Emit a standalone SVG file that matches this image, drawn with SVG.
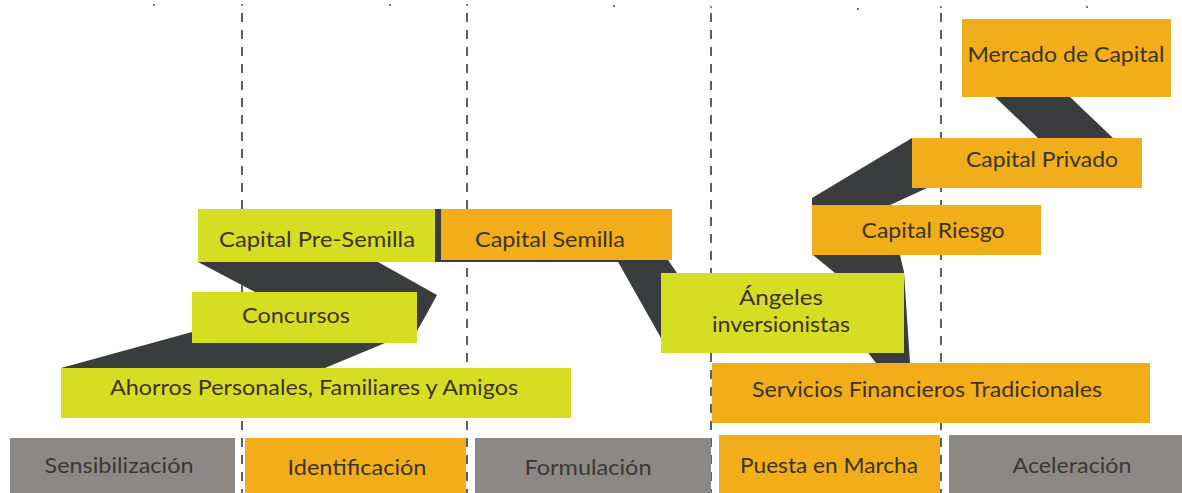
<svg xmlns="http://www.w3.org/2000/svg" width="1182" height="493" viewBox="0 0 1182 493">
<defs>
<style>
.lime{fill:#D6DE23}
.orange{fill:#F2AE1A}
.grey{fill:#8B8886}
.ribbon{fill:#3A3C3E}
.dash{stroke:#444444;stroke-width:1.7;stroke-dasharray:9 8;fill:none}
.dot{fill:#555}
text{font-family:"Lato","Open Sans","Liberation Sans",sans-serif;font-size:21px;fill:#3B3322;text-anchor:middle}
.bt{fill:#3A3836}
</style>
</defs>
<rect width="1182" height="493" fill="#FFFFFF"/>
<g id="guides">
<line class="dash" x1="242" y1="13" x2="242" y2="493"/>
<line class="dash" x1="467" y1="13" x2="467" y2="493"/>
<line class="dash" x1="711" y1="13" x2="711" y2="493"/>
<line class="dash" x1="941" y1="13" x2="941" y2="493"/>
<circle class="dot" cx="242" cy="5" r="1"/>
<circle class="dot" cx="467" cy="5" r="1"/>
<circle class="dot" cx="711" cy="7" r="1"/>
<circle class="dot" cx="941" cy="7" r="1"/>
<circle class="dot" cx="154" cy="5" r="1.1"/>
<circle class="dot" cx="390" cy="5" r="1.1"/>
<circle class="dot" cx="614" cy="6" r="1.1"/>
<circle class="dot" cx="858" cy="9" r="1.1"/>
<circle class="dot" cx="1087" cy="7" r="1.1"/>
</g>
<g id="connectors">
<polygon class="ribbon" points="198,262 378,262 437,295 425,317 417,331 385,343 325,368 61,368 192,332 255,292"/>
<polygon class="ribbon" points="434,209 445,209 445,259 620,259 620,262 434,262"/>
<polygon class="ribbon" points="617,260 668,260 677,273 661,273 661,338"/>
<polygon class="ribbon" points="813,255 900,255 904,272 910,363 876,363 866,350 835,273"/>
<polygon class="ribbon" points="812,205 812,198 912,138 912,188 927,188 890,205"/>
<polygon class="ribbon" points="995,97 1070,97 1113,138 1038,138"/>
</g>
<g id="ahorros">
<rect class="lime" x="61" y="368" width="510" height="50"/>
<text x="314" y="395" textLength="408" lengthAdjust="spacingAndGlyphs">Ahorros Personales, Familiares y Amigos</text>
</g>
<g id="concursos">
<rect class="lime" x="192" y="292" width="225" height="51"/>
<text x="296" y="323" textLength="108" lengthAdjust="spacingAndGlyphs">Concursos</text>
</g>
<g id="pre-semilla">
<rect class="lime" x="198" y="209" width="237" height="53"/>
<text x="317" y="247" textLength="196" lengthAdjust="spacingAndGlyphs">Capital Pre-Semilla</text>
</g>
<g id="semilla">
<rect class="orange" x="441" y="209" width="231" height="51"/>
<text x="550" y="247" textLength="150" lengthAdjust="spacingAndGlyphs">Capital Semilla</text>
</g>
<g id="angeles">
<rect class="lime" x="661" y="273" width="243" height="80"/>
<text x="781" y="305" textLength="84" lengthAdjust="spacingAndGlyphs">Ángeles</text>
<text x="781" y="332" textLength="138" lengthAdjust="spacingAndGlyphs">inversionistas</text>
</g>
<g id="servicios">
<rect class="orange" x="712" y="363" width="438" height="60"/>
<text x="927" y="397" textLength="350" lengthAdjust="spacingAndGlyphs">Servicios Financieros Tradicionales</text>
</g>
<g id="riesgo">
<rect class="orange" x="812" y="205" width="229" height="50"/>
<text x="933" y="238" textLength="143" lengthAdjust="spacingAndGlyphs">Capital Riesgo</text>
</g>
<g id="privado">
<rect class="orange" x="912" y="138" width="230" height="50"/>
<text x="1042" y="167" textLength="152" lengthAdjust="spacingAndGlyphs">Capital Privado</text>
</g>
<g id="mercado">
<rect class="orange" x="962" y="19" width="209" height="78"/>
<text x="1066" y="62" textLength="197" lengthAdjust="spacingAndGlyphs">Mercado de Capital</text>
</g>
<g id="sensibilizacion">
<rect class="grey" x="10" y="438" width="225" height="55"/>
<text class="bt" x="119" y="473" textLength="149" lengthAdjust="spacingAndGlyphs">Sensibilización</text>
</g>
<g id="identificacion">
<rect class="orange" x="245" y="438" width="221" height="55"/>
<text x="357" y="475" textLength="139" lengthAdjust="spacingAndGlyphs">Identificación</text>
</g>
<g id="formulacion">
<rect class="grey" x="475" y="438" width="236" height="55"/>
<text class="bt" x="588" y="475" textLength="127" lengthAdjust="spacingAndGlyphs">Formulación</text>
</g>
<g id="puesta">
<rect class="orange" x="719" y="435" width="221" height="58"/>
<text x="829" y="473" textLength="178" lengthAdjust="spacingAndGlyphs">Puesta en Marcha</text>
</g>
<g id="aceleracion">
<rect class="grey" x="949" y="435" width="233" height="58"/>
<text class="bt" x="1072" y="473" textLength="119" lengthAdjust="spacingAndGlyphs">Aceleración</text>
</g>
</svg>
